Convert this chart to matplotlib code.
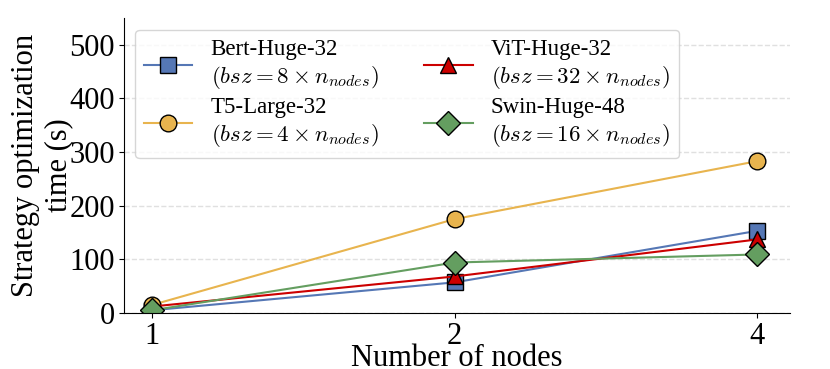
import matplotlib
matplotlib.use("Agg")
import matplotlib.pyplot as plt

plt.rcParams['font.family'] = ['Liberation Serif', 'DejaVu Serif']
plt.rcParams['mathtext.fontset'] = 'cm'

nodes = ['1', '2', '4']
bert = [5, 57, 153]
t5 = [15, 175, 283]
vit = [12, 68, 137]
swin = [5, 94, 109]

labels = [
    'Bert-Huge-32\n$(bsz=8\\times n_{nodes})$',
    'T5-Large-32\n$(bsz=4\\times n_{nodes})$',
    'ViT-Huge-32\n$(bsz=32\\times n_{nodes})$',
    'Swin-Huge-48\n$(bsz=16\\times n_{nodes})$',
]
series = [bert, t5, vit, swin]
colors = ['#5577b5', '#e8b44e', '#cc0000', '#649e60']
markers = ['s', 'o', '^', 'D']

fig = plt.figure(figsize=(8.3, 3.69), dpi=100)
ax = fig.add_axes([0.149, 0.152, 0.803, 0.799])
x = list(range(len(nodes)))
for s, lab, c, m in zip(series, labels, colors, markers):
    ax.plot(x, s, color=c, marker=m, markersize=12, markerfacecolor=c,
            markeredgecolor='black', markeredgewidth=1.0, linewidth=1.5, label=lab)

ax.set_xticks(x)
ax.set_xticklabels(nodes)
ax.set_xlim(-0.095, 2.11)
ax.set_ylim(0, 550)
ax.set_yticks([0, 100, 200, 300, 400, 500])
ax.tick_params(labelsize=22, pad=3)
ax.yaxis.grid(True, linestyle='--', color='#e0e0e0', linewidth=1)
ax.set_axisbelow(True)
ax.spines['top'].set_visible(False)
ax.spines['right'].set_visible(False)
ax.set_xlabel('Number of nodes', fontsize=22, labelpad=-5)
ax.set_ylabel('Strategy optimization\ntime (s)', fontsize=22, labelpad=-3)

ax.legend(ncol=2, fontsize=16.5, loc='upper left',
          frameon=True, handlelength=2.1, columnspacing=2.0, labelspacing=0.3,
          borderpad=0.4, handletextpad=0.8)

fig.savefig('out.png', dpi=100)
